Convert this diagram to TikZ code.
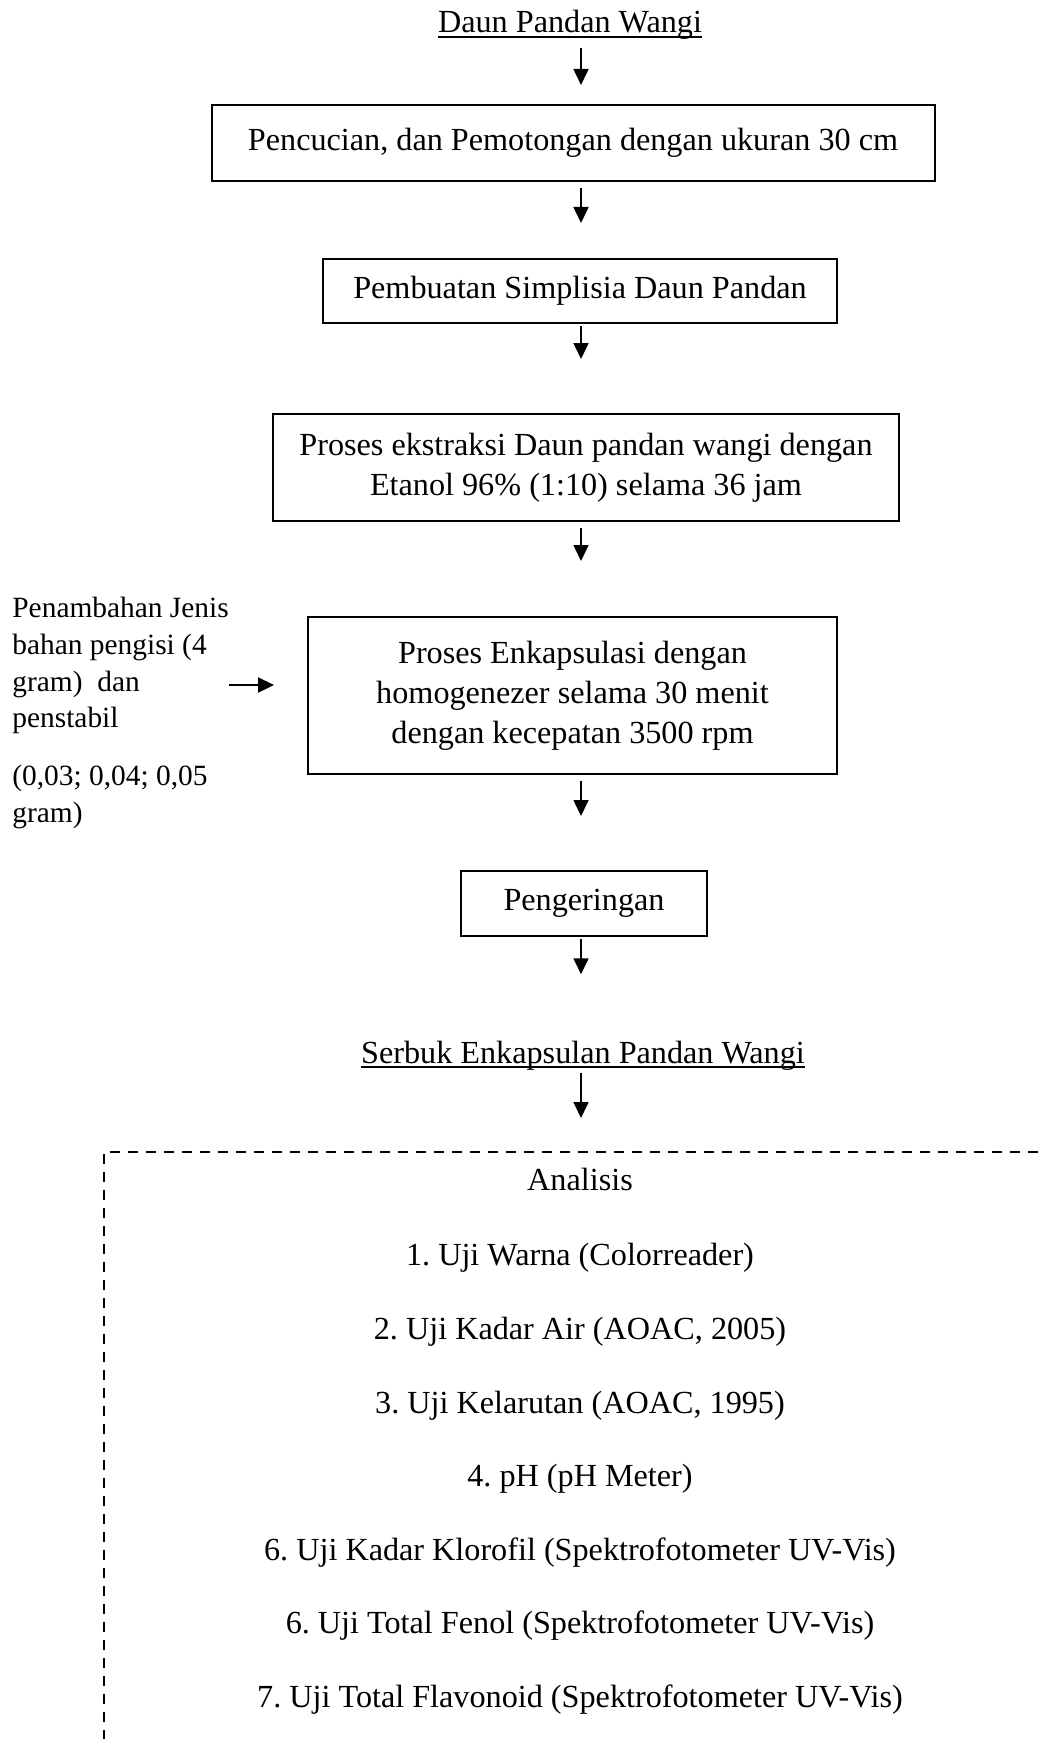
\documentclass[tikz,border=0pt]{standalone}
\usepackage{fontspec}
\setmainfont{Liberation Serif}
\usetikzlibrary{arrows,arrows.meta}
\frenchspacing
\newcommand{\ulword}[1]{\setbox0\hbox{#1}\rlap{\rule[-2.6pt]{\wd0}{0.9pt}}\box0}
\tikzstyle{block} = [rectangle, draw, line width=1pt, align=center, inner sep=0pt, font=\fontsize{16.1}{20}\selectfont]
\tikzstyle{plain} = [inner sep=0pt, font=\fontsize{16.1}{20}\selectfont]
\tikzstyle{frame} = [rectangle, draw, line width=1pt, dash pattern=on 5pt off 4pt, inner sep=0pt]
\tikzset{edge/.style = {
    >={Triangle[length=8pt, width=7.5pt]},
    ->, line width=0.8pt,
  }
}

\begin{document}
\begin{tikzpicture}[x=0.5pt, y=-0.5pt]
            \useasboundingbox (0,0) rectangle (1038,1739);
            \clip (0,0) rectangle (1038,1739);
            \coordinate (axis) at (581,0);

            % vertices
            \node[plain, anchor=base] (title) at (570,33) {\ulword{Daun Pandan Wangi}};
            \node[block, minimum width=361.5pt, minimum height=38pt] (n1) at (573,143) {Pencucian, dan Pemotongan dengan ukuran 30 cm};
            \node[block, minimum width=257pt, minimum height=32pt] (n2) at (580,291) {Pembuatan Simplisia Daun Pandan};
            \node[block, minimum width=313pt, minimum height=53.5pt] (n3) at (586,467.5) {Proses ekstraksi Daun pandan wangi dengan\\Etanol 96\% (1:10) selama 36 jam};
            \node[block, minimum width=264.5pt, minimum height=78.5pt] (n4) at (572.5,695.5) {Proses Enkapsulasi dengan\\homogenezer selama 30 menit\\dengan kecepatan 3500 rpm};
            \node[plain, anchor=north west, align=left, font=\fontsize{14.7}{18.3}\selectfont] (addtxt) at (12,597) {Penambahan Jenis\\bahan pengisi (4\\gram)\ \ dan\\penstabil\\[10.7pt](0,03; 0,04; 0,05\\gram)};
            \node[block, minimum width=123pt, minimum height=32.5pt] (n5) at (584,903.5) {Pengeringan};
            \node[plain, anchor=base] (powder) at (583,1063) {\ulword{Serbuk Enkapsulan Pandan Wangi}};

            % analysis frame
            \node[frame, anchor=north west, minimum width=478.5pt, minimum height=320pt] (frame) at (103,1151) {};
            \node[plain, anchor=base] (an0) at (580,1190) {Analisis};
            \node[plain, anchor=base] (an1) at (580,1265) {1. Uji Warna (Colorreader)};
            \node[plain, anchor=base] (an2) at (580,1339) {2. Uji Kadar Air (AOAC, 2005)};
            \node[plain, anchor=base] (an3) at (580,1413) {3. Uji Kelarutan (AOAC, 1995)};
            \node[plain, anchor=base] (an4) at (580,1486) {4. pH (pH Meter)};
            \node[plain, anchor=base] (an5) at (580,1560) {6. Uji Kadar Klorofil (Spektrofotometer UV-Vis)};
            \node[plain, anchor=base] (an6) at (580,1633) {6. Uji Total Fenol (Spektrofotometer UV-Vis)};
            \node[plain, anchor=base] (an7) at (580,1707) {7. Uji Total Flavonoid (Spektrofotometer UV-Vis)};

            %edges
            \draw[edge, shorten <=4pt, shorten >=9.5pt] (title.south -| axis) -- (n1.north -| axis);
            \draw[edge, shorten <=3pt, shorten >=17.5pt] (n1.south -| axis) -- (n2.north -| axis);
            \draw[edge, shorten <=1pt, shorten >=27pt] (n2.south -| axis) -- (n3.north -| axis);
            \draw[edge, shorten <=3pt, shorten >=27.5pt] (n3.south -| axis) -- (n4.north -| axis);
            \draw[edge, shorten <=3pt, shorten >=27pt] (n4.south -| axis) -- (n5.north -| axis);
            \draw[edge, shorten <=1pt, shorten >=33pt] (n5.south -| axis) -- (powder.north -| axis);
            \draw[edge, shorten <=1.5pt, shorten >=16.5pt] (powder.south -| axis) -- (frame.north -| axis);

            %side input
            \coordinate (inlet) at (273,685);
            \draw[edge, line width=1.1pt, shorten >=16.5pt] (addtxt.east |- inlet) -- (n4.west |- inlet);
\end{tikzpicture}
\end{document}
